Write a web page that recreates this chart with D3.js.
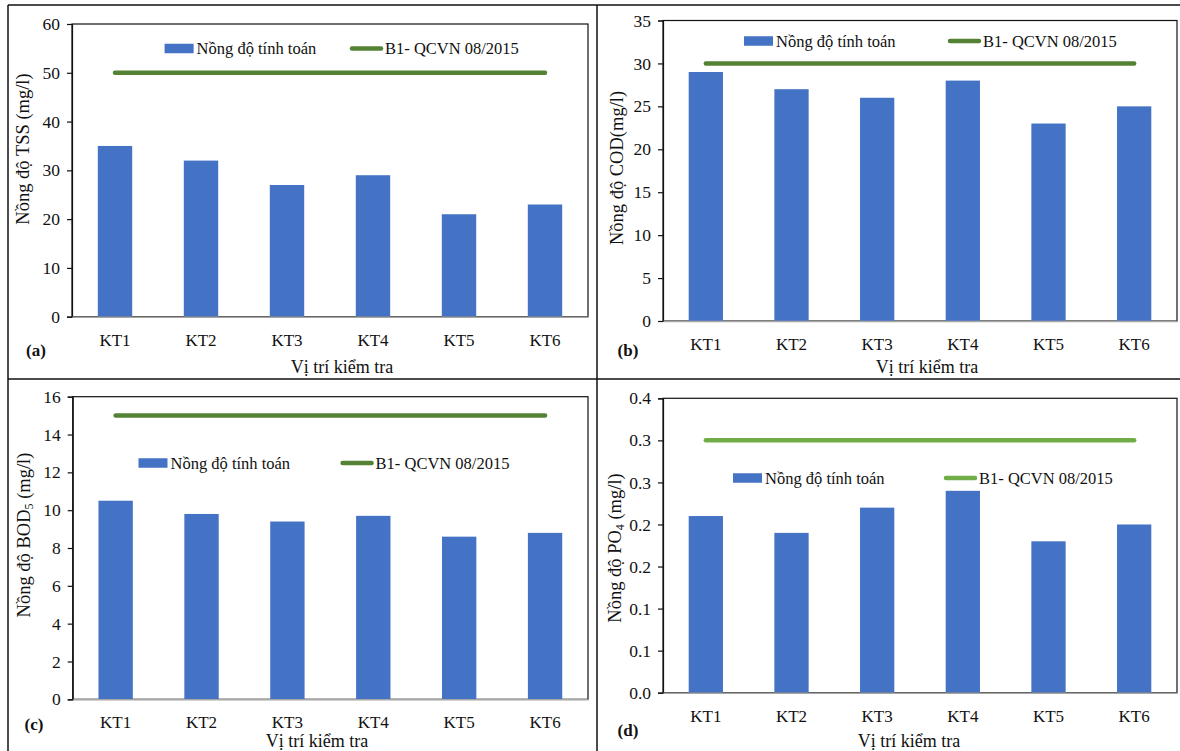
<!DOCTYPE html>
<html>
<head>
<meta charset="utf-8">
<script src="https://cdn.jsdelivr.net/npm/d3@7"></script>
<style>
  html, body { margin: 0; padding: 0; background: #fff; }
  svg text { font-family: "Liberation Serif", "Times New Roman", serif; fill: #111; }
</style>
</head>
<body>
<svg id="chart" width="1180" height="751"></svg>
<script>
// Monitoring points
const categories = ["KT1", "KT2", "KT3", "KT4", "KT5", "KT6"];

// Calculated concentrations at each point
const tssValues = [35, 32, 27, 29, 21, 23];
const codValues = [29, 27, 26, 28, 23, 25];
const bodValues = [10.5, 9.8, 9.4, 9.7, 8.6, 8.8];
const po4Values = [0.21, 0.19, 0.22, 0.24, 0.18, 0.20];

// B1 limits of QCVN 08/2015
const tssLimit = 50;
const codLimit = 30;
const bodLimit = 15;
const po4Limit = 0.3;

// Axis ticks and their labels
const tssTicks = [0, 10, 20, 30, 40, 50, 60];
const codTicks = [0, 5, 10, 15, 20, 25, 30, 35];
const bodTicks = [0, 2, 4, 6, 8, 10, 12, 14, 16];
const po4Ticks = [0, 0.05, 0.1, 0.15, 0.2, 0.25, 0.3, 0.35];
const tssTickLabels = ["0", "10", "20", "30", "40", "50", "60"];
const codTickLabels = ["0", "5", "10", "15", "20", "25", "30", "35"];
const bodTickLabels = ["0", "2", "4", "6", "8", "10", "12", "14", "16"];
const po4TickLabels = ["0.0", "0.1", "0.1", "0.2", "0.2", "0.3", "0.3", "0.4"];

// Series names and axis titles
const seriesNames = ["Nồng độ tính toán", "B1- QCVN 08/2015"];
const xTitle = "Vị trí kiểm tra";
const panelTags = ["(a)", "(b)", "(c)", "(d)"];

const BAR = "#4472C4";
const GREEN_DARK = "#548235";
const GREEN_LIGHT = "#70AD47";
const FONT = '"Liberation Serif", "Times New Roman", serif';

const svg = d3.select("#chart");

// Outer frame and grid dividers
const frame = svg.append("g").attr("stroke", "#111").attr("stroke-width", 1.5).attr("fill", "none");
frame.append("line").attr("x1", 8).attr("y1", 5).attr("x2", 1180).attr("y2", 5);
frame.append("line").attr("x1", 8).attr("y1", 5).attr("x2", 8).attr("y2", 751);
frame.append("line").attr("x1", 597).attr("y1", 5).attr("x2", 597).attr("y2", 751);
frame.append("line").attr("x1", 8).attr("y1", 379).attr("x2", 1180).attr("y2", 379);

const panels = [
  {
    values: tssValues, limit: tssLimit, ticks: tssTicks, tickLabels: tssTickLabels,
    yTitle: [["Nồng độ TSS (mg/l)", false]], lineColor: GREEN_DARK, tag: panelTags[0],
    box: { x0: 72, x1: 588, y0: 24, y1: 316.7 },
    legend: { bx: 164.6, lx: 350, y: 48.5 },
    yTitlePos: [23, 149], tagPos: [36, 350], xTitlePos: [342, 367]
  },
  {
    values: codValues, limit: codLimit, ticks: codTicks, tickLabels: codTickLabels,
    yTitle: [["Nồng độ COD(mg/l)", false]], lineColor: GREEN_DARK, tag: panelTags[1],
    box: { x0: 663, x1: 1177, y0: 20.5, y1: 321 },
    legend: { bx: 744, lx: 948, y: 41 },
    yTitlePos: [617, 168], tagPos: [628, 350], xTitlePos: [927, 367]
  },
  {
    values: bodValues, limit: bodLimit, ticks: bodTicks, tickLabels: bodTickLabels,
    yTitle: [["Nồng độ BOD", false], ["5", true], [" (mg/l)", false]], lineColor: GREEN_DARK, tag: panelTags[2],
    box: { x0: 72.7, x1: 588, y0: 396.7, y1: 699.3 },
    legend: { bx: 138.5, lx: 340.6, y: 463 },
    yTitlePos: [24, 535], tagPos: [34, 724], xTitlePos: [317, 741]
  },
  {
    values: po4Values, limit: po4Limit, ticks: po4Ticks, tickLabels: po4TickLabels,
    yTitle: [["Nồng độ PO", false], ["4", true], [" (mg/l)", false]], lineColor: GREEN_LIGHT, tag: panelTags[3],
    box: { x0: 663, x1: 1177, y0: 398.3, y1: 692.7 },
    legend: { bx: 733, lx: 944, y: 478 },
    yTitlePos: [615, 548], tagPos: [628, 730], xTitlePos: [909, 741]
  }
];

panels.forEach(p => {
  const g = svg.append("g");
  const b = p.box;

  const x = d3.scaleBand().domain(categories).range([b.x0, b.x1])
    .paddingInner(0.6).paddingOuter(0.3);
  const y = d3.scaleLinear().domain([p.ticks[0], p.ticks[p.ticks.length - 1]]).range([b.y1, b.y0]);

  // Plot area border
  g.append("rect")
    .attr("x", b.x0).attr("y", b.y0)
    .attr("width", b.x1 - b.x0).attr("height", b.y1 - b.y0)
    .attr("fill", "none").attr("stroke", "#111").attr("stroke-width", 1.2);

  // Bars
  g.append("g").selectAll("rect").data(p.values).join("rect")
    .attr("x", (d, i) => x(categories[i]))
    .attr("width", x.bandwidth())
    .attr("y", d => y(d))
    .attr("height", d => y(0) - y(d))
    .attr("fill", BAR);

  // Limit line across the category centres
  const limitPts = categories.map(c => [x(c) + x.bandwidth() / 2, y(p.limit)]);
  g.append("path")
    .attr("d", d3.line()(limitPts))
    .attr("fill", "none")
    .attr("stroke", p.lineColor)
    .attr("stroke-width", 4.5)
    .attr("stroke-linecap", "round");

  // Y axis
  const yAxis = d3.axisLeft(y).tickValues(p.ticks)
    .tickFormat((d, i) => p.tickLabels[i]).tickSize(5).tickPadding(7);
  const ya = g.append("g").attr("transform", `translate(${b.x0},0)`).call(yAxis);
  ya.select(".domain").attr("stroke", "#111").attr("stroke-width", 1.2);
  ya.selectAll(".tick line").attr("stroke", "#111").attr("stroke-width", 1.2);
  ya.selectAll("text").attr("font-size", 17.5).attr("fill", "#111").style("font-family", FONT);

  // X axis
  const xAxis = d3.axisBottom(x).tickSize(0).tickPadding(17);
  const xa = g.append("g").attr("transform", `translate(0,${b.y1})`).call(xAxis);
  xa.select(".domain").attr("stroke", "#A6A6A6").attr("stroke-width", 1.5);
  xa.selectAll("text").attr("font-size", 17).attr("fill", "#111").style("font-family", FONT);

  // Legend
  const L = p.legend;
  g.append("rect").attr("x", L.bx).attr("y", L.y - 4.75).attr("width", 29).attr("height", 9.5).attr("fill", BAR);
  g.append("text").attr("x", L.bx + 32).attr("y", L.y).attr("dy", "0.35em")
    .attr("font-size", 16.5).text(seriesNames[0]);
  g.append("line").attr("x1", L.lx + 2).attr("x2", L.lx + 31).attr("y1", L.y).attr("y2", L.y)
    .attr("stroke", p.lineColor).attr("stroke-width", 4.5).attr("stroke-linecap", "round");
  g.append("text").attr("x", L.lx + 35).attr("y", L.y).attr("dy", "0.35em")
    .attr("font-size", 16.5).text(seriesNames[1]);

  // Y axis title (with optional subscript)
  const yt = g.append("text")
    .attr("transform", `translate(${p.yTitlePos[0]},${p.yTitlePos[1]}) rotate(-90)`)
    .attr("text-anchor", "middle").attr("dy", "0.35em").attr("font-size", 18.5);
  p.yTitle.forEach(([t, sub]) => {
    const ts = yt.append("tspan").text(t);
    if (sub) ts.attr("font-size", 12).attr("baseline-shift", "-25%");
  });

  // X axis title
  g.append("text").attr("x", p.xTitlePos[0]).attr("y", p.xTitlePos[1]).attr("dy", "0.35em")
    .attr("text-anchor", "middle").attr("font-size", 18).text(xTitle);

  // Panel tag
  g.append("text").attr("x", p.tagPos[0]).attr("y", p.tagPos[1]).attr("dy", "0.35em")
    .attr("text-anchor", "middle").attr("font-size", 17).attr("font-weight", "bold").text(p.tag);
});
</script>
</body>
</html>
